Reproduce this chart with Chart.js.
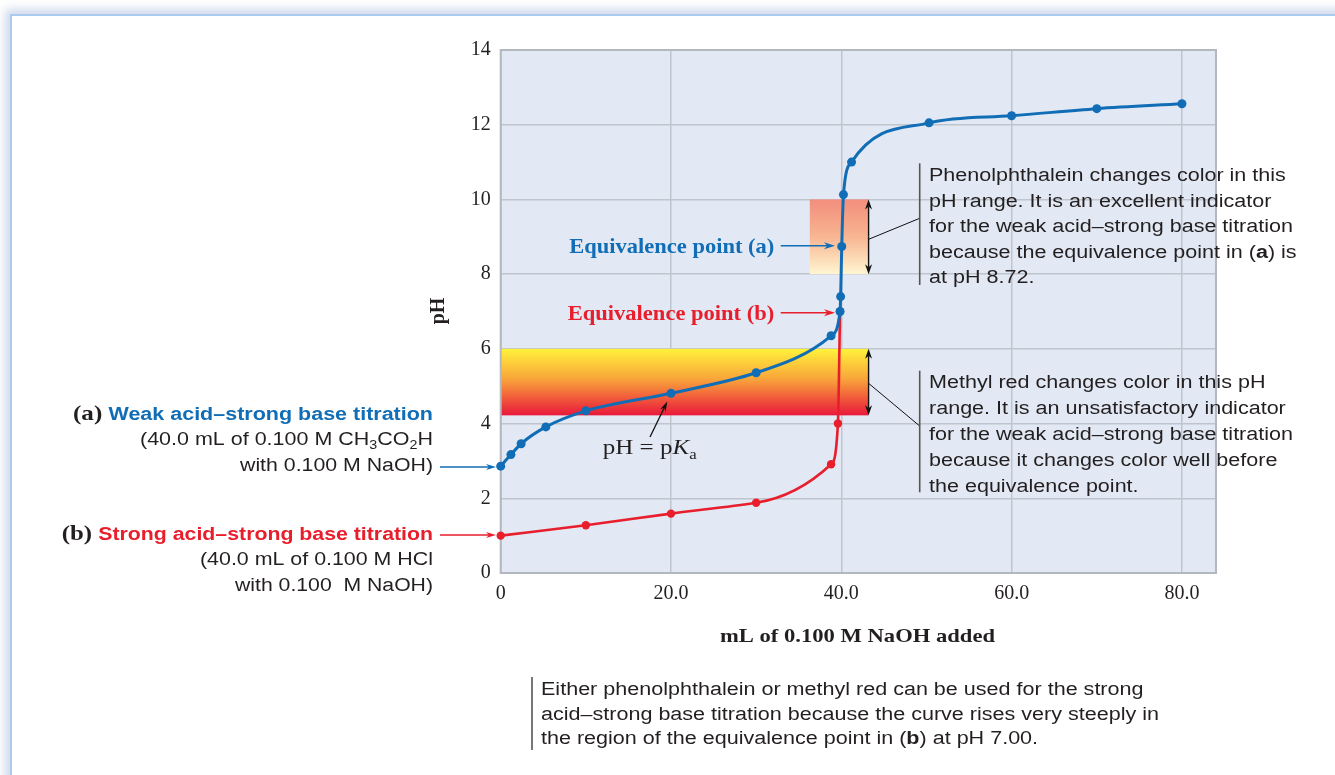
<!DOCTYPE html>
<html><head><meta charset="utf-8">
<style>
html,body{margin:0;padding:0;background:#fff;overflow:hidden;width:1335px;height:775px;}
#frame{position:absolute;left:10px;top:14px;width:1400px;height:900px;border-left:2px solid #a9ccee;border-top:2px solid #a9ccee;box-shadow:-5px -5px 9px rgba(120,150,200,0.35);}
canvas{position:absolute;left:0;top:0;}
</style>
<script src="https://cdn.jsdelivr.net/npm/chart.js@4.4.0/dist/chart.umd.min.js"></script>
</head><body>
<div id="frame"></div>
<canvas id="c" width="1335" height="775"></canvas>
<script>
// ---- data ----
const xTicks = [0, 20, 40, 60, 80];
const yTicks = [0, 2, 4, 6, 8, 10, 12, 14];
const weakX  = [0, 1.2, 2.4, 5.3, 10, 20, 30, 38.8, 39.85, 39.92, 40.05, 40.25, 41.2, 50.3, 60, 70, 80];
const weakPH = [2.86, 3.17, 3.46, 3.91, 4.34, 4.81, 5.36, 6.35, 7.0, 7.4, 8.74, 10.13, 11.0, 12.05, 12.24, 12.43, 12.56];
const strongX  = [0, 10, 20, 30, 38.8, 39.6, 39.85];
const strongPH = [1.0, 1.28, 1.59, 1.88, 2.91, 4.0, 7.0];
const phenolRangeX = [36.3, 43.2];
const phenolRangePH = [8, 10];
const methylRangeX = [0, 43.2];
const methylRangePH = [4.22, 6.0];

const BLUE = '#116db5';
const RED = '#e81e2c';
const TXT = '#231f20';
const SANS = '"Liberation Sans", Arial, sans-serif';
const SERIF = '"Liberation Serif", "Times New Roman", serif';

function richWidth(ctx, parts){
  let w = 0;
  for (const p of parts){ ctx.font = p.font; w += ctx.measureText(p.t).width; }
  return w;
}
function drawRich(ctx, parts, x, y, align, scale){
  const w = richWidth(ctx, parts);
  const s = scale || 1;
  const sx = align === 'right' ? x - w*s : (align === 'center' ? x - w*s/2 : x);
  ctx.save();
  ctx.translate(sx, y);
  ctx.scale(s, 1);
  ctx.textAlign = 'left';
  ctx.textBaseline = 'alphabetic';
  let cx = 0;
  for (const p of parts){
    ctx.font = p.font;
    ctx.fillStyle = p.color || TXT;
    ctx.fillText(p.t, cx, p.dy || 0);
    cx += ctx.measureText(p.t).width;
  }
  ctx.restore();
}
function fitScale(ctx, parts, target){ return target / richWidth(ctx, parts); }
function arrow(ctx, x1, y1, x2, y2, color, lw, hl, hw){
  const a = Math.atan2(y2-y1, x2-x1);
  ctx.save();
  ctx.strokeStyle = color; ctx.fillStyle = color; ctx.lineWidth = lw;
  ctx.beginPath(); ctx.moveTo(x1, y1);
  ctx.lineTo(x2 - Math.cos(a)*hl*0.7, y2 - Math.sin(a)*hl*0.7); ctx.stroke();
  ctx.translate(x2, y2); ctx.rotate(a);
  ctx.beginPath(); ctx.moveTo(0,0); ctx.lineTo(-hl, -hw/2); ctx.lineTo(-hl*0.7, 0); ctx.lineTo(-hl, hw/2); ctx.closePath(); ctx.fill();
  ctx.restore();
}
function line(ctx, x1, y1, x2, y2, color, lw){
  ctx.save(); ctx.strokeStyle = color; ctx.lineWidth = lw;
  ctx.beginPath(); ctx.moveTo(x1,y1); ctx.lineTo(x2,y2); ctx.stroke(); ctx.restore();
}

const decor = {
  id: 'decor',
  beforeDraw(chart){
    const {ctx, chartArea: a} = chart;
    ctx.save();
    ctx.fillStyle = '#e2e9f4';
    ctx.fillRect(a.left, a.top, a.right - a.left, a.bottom - a.top);
    ctx.restore();
  },
  beforeDatasetsDraw(chart){
    const {ctx, scales: {x, y}} = chart;
    let l = x.getPixelForValue(phenolRangeX[0]), r = x.getPixelForValue(phenolRangeX[1]);
    let t = y.getPixelForValue(phenolRangePH[1]), b = y.getPixelForValue(phenolRangePH[0]);
    let g = ctx.createLinearGradient(0, t, 0, b);
    g.addColorStop(0, '#f28e7d'); g.addColorStop(0.5, '#f8b591'); g.addColorStop(1, '#fff5d2');
    ctx.fillStyle = g; ctx.fillRect(l, t, r - l, b - t);
    l = x.getPixelForValue(methylRangeX[0]); r = x.getPixelForValue(methylRangeX[1]);
    t = y.getPixelForValue(methylRangePH[1]); b = y.getPixelForValue(methylRangePH[0]);
    g = ctx.createLinearGradient(0, t, 0, b);
    g.addColorStop(0, '#fff23a'); g.addColorStop(0.45, '#f9a53a'); g.addColorStop(1, '#e9183c');
    ctx.fillStyle = g; ctx.fillRect(l, t, r - l, b - t);
    // plot border (under the data)
    const a = chart.chartArea;
    ctx.save(); ctx.strokeStyle = '#b3b8bf'; ctx.lineWidth = 2;
    ctx.strokeRect(a.left, a.top, a.right - a.left, a.bottom - a.top); ctx.restore();
  },
  afterDraw(chart){
    const {ctx, scales: {x, y}} = chart;

    const ax = x.getPixelForValue(phenolRangeX[1]);
    let t = y.getPixelForValue(phenolRangePH[1]), b = y.getPixelForValue(phenolRangePH[0]);
    arrow(ctx, ax, (t+b)/2, ax, t, '#111', 1.4, 10, 7);
    arrow(ctx, ax, (t+b)/2, ax, b, '#111', 1.4, 10, 7);
    line(ctx, ax, 239.3, 919.7, 218.3, '#111', 1);
    t = y.getPixelForValue(methylRangePH[1]); b = y.getPixelForValue(methylRangePH[0]);
    arrow(ctx, ax, (t+b)/2, ax, t, '#111', 1.4, 10, 7);
    arrow(ctx, ax, (t+b)/2, ax, b, '#111', 1.4, 10, 7);
    line(ctx, ax, 383.3, 919.7, 426, '#111', 1);

    line(ctx, 919.7, 163.3, 919.7, 285, '#555', 1.6);
    line(ctx, 919.7, 370.7, 919.7, 492.3, '#555', 1.6);
    line(ctx, 532, 677, 532, 750, '#555', 1.6);

    const body = '18px ' + SANS, bodyB = 'bold 18px ' + SANS;
    const ph = [
      [{t:'Phenolphthalein changes color in this', font: body}],
      [{t:'pH range. It is an excellent indicator', font: body}],
      [{t:'for the weak acid\u2013strong base titration', font: body}],
      [{t:'because the equivalence point in (', font: body}, {t:'a', font: bodyB}, {t:') is', font: body}],
      [{t:'at pH 8.72.', font: body}]
    ];
    let s = fitScale(ctx, ph[2], 364);
    const phB = [181, 206.5, 232, 257.5, 283];
    ph.forEach((p, i) => drawRich(ctx, p, 929, phB[i], 'left', s));
    const mr = [
      [{t:'Methyl red changes color in this pH', font: body}],
      [{t:'range. It is an unsatisfactory indicator', font: body}],
      [{t:'for the weak acid\u2013strong base titration', font: body}],
      [{t:'because it changes color well before', font: body}],
      [{t:'the equivalence point.', font: body}]
    ];
    const mrB = [388, 414, 440, 466, 491.5];
    mr.forEach((p, i) => drawRich(ctx, p, 929, mrB[i], 'left', s));
    const bt = [
      [{t:'Either phenolphthalein or methyl red can be used for the strong', font: body}],
      [{t:'acid\u2013strong base titration because the curve rises very steeply in', font: body}],
      [{t:'the region of the equivalence point in (', font: body}, {t:'b', font: bodyB}, {t:') at pH 7.00.', font: body}]
    ];
    const s2 = fitScale(ctx, bt[1], 618);
    const btB = [695, 720, 744];
    bt.forEach((p, i) => drawRich(ctx, p, 541, btB[i], 'left', s2));

    const eqF = 'bold 22px ' + SERIF;
    let p = [{t:'Equivalence point (a)', font: eqF, color: BLUE}];
    drawRich(ctx, p, 774.3, 252.5, 'right', fitScale(ctx, p, 205));
    arrow(ctx, 780.7, 245.7, 835, 245.7, BLUE, 1.4, 11, 7);
    p = [{t:'Equivalence point (b)', font: eqF, color: RED}];
    drawRich(ctx, p, 774.3, 320, 'right', fitScale(ctx, p, 206.6));
    arrow(ctx, 780.7, 312.7, 835, 312.7, RED, 1.4, 11, 7);

    p = [{t:'pH = p', font: '21px ' + SERIF}, {t:'K', font: 'italic 21px ' + SERIF}, {t:'a', font: '14px ' + SERIF, dy: 5}];
    drawRich(ctx, p, 602.7, 454, 'left', fitScale(ctx, p, 94));
    arrow(ctx, 650, 437, 667.3, 401.5, '#111', 1.3, 10, 6);

    const lb = 'bold 18px ' + SANS, lr = '18px ' + SANS, ls = '12px ' + SANS;
    p = [{t:'(a) ', font: 'bold 21px ' + SERIF, color: TXT}, {t:'Weak acid\u2013strong base titration', font: lb, color: BLUE}];
    drawRich(ctx, p, 433, 419.5, 'right', fitScale(ctx, p, 360));
    p = [{t:'(40.0 mL of 0.100 M CH', font: lr}, {t:'3', font: ls, dy: 4}, {t:'CO', font: lr}, {t:'2', font: ls, dy: 4}, {t:'H', font: lr}];
    drawRich(ctx, p, 433, 445, 'right', fitScale(ctx, p, 293));
    p = [{t:'with 0.100 M NaOH)', font: lr}];
    drawRich(ctx, p, 433, 470.5, 'right', fitScale(ctx, p, 193));
    arrow(ctx, 440, 467, 496, 467, BLUE, 1.4, 10, 6);
    p = [{t:'(b) ', font: 'bold 21px ' + SERIF, color: TXT}, {t:'Strong acid\u2013strong base titration', font: lb, color: RED}];
    drawRich(ctx, p, 433, 539.5, 'right', fitScale(ctx, p, 371.3));
    p = [{t:'(40.0 mL of 0.100 M HCl', font: lr}];
    drawRich(ctx, p, 433, 565, 'right', fitScale(ctx, p, 233));
    p = [{t:'with 0.100  M NaOH)', font: lr}];
    drawRich(ctx, p, 433, 590.5, 'right', fitScale(ctx, p, 198));
    arrow(ctx, 440, 535, 496, 535, RED, 1.4, 10, 6);

    ctx.save();
    ctx.translate(436.7, 311); ctx.rotate(-Math.PI/2);
    p = [{t:'pH', font: 'bold 20px ' + SERIF}];
    drawRich(ctx, p, 0, 7, 'center', 1);
    ctx.restore();
    p = [{t:'mL of 0.100 M NaOH added', font: 'bold 19px ' + SERIF}];
    drawRich(ctx, p, 857.5, 642, 'center', fitScale(ctx, p, 275));
  }
};

new Chart(document.getElementById('c'), {
  type: 'line',
  data: {
    datasets: [
      {
        label: 'Weak acid',
        data: weakX.map((v, i) => ({x: v, y: weakPH[i]})),
        borderColor: BLUE, backgroundColor: BLUE, borderWidth: 3,
        pointRadius: 4.5, pointBorderWidth: 0, pointHoverRadius: 4.5,
        cubicInterpolationMode: 'monotone', fill: false, clip: false
      },
      {
        label: 'Strong acid',
        data: strongX.map((v, i) => ({x: v, y: strongPH[i]})),
        borderColor: RED, backgroundColor: RED, borderWidth: 2.6,
        pointRadius: 4.2, pointBorderWidth: 0, pointHoverRadius: 4.2,
        cubicInterpolationMode: 'monotone', fill: false, clip: false
      }
    ]
  },
  options: {
    responsive: false, animation: false, devicePixelRatio: 1,
    layout: {padding: {left: 400, right: 119, top: 50, bottom: 142}},
    plugins: {legend: {display: false}, tooltip: {enabled: false}},
    scales: {
      x: {
        type: 'linear', min: 0, max: 84,
        afterBuildTicks: s => { s.ticks = xTicks.map(v => ({value: v})); },
        afterFit: s => { s.height = 60; },
        ticks: {
          callback: v => v === 0 ? '0' : v.toFixed(1),
          font: {family: 'Liberation Serif', size: 20}, color: TXT, padding: 9,
          maxRotation: 0, autoSkip: false
        },
        grid: {color: '#bfc5cc', lineWidth: 1.5, drawTicks: false},
        border: {display: false}
      },
      y: {
        min: 0, max: 14,
        afterBuildTicks: s => { s.ticks = yTicks.map(v => ({value: v})); },
        afterFit: s => { s.width = 100.7; },
        ticks: {font: {family: 'Liberation Serif', size: 20}, color: TXT, padding: 10},
        grid: {color: '#bfc5cc', lineWidth: 1.5, drawTicks: false},
        border: {display: false}
      }
    }
  },
  plugins: [decor]
});
</script>
</body></html>
